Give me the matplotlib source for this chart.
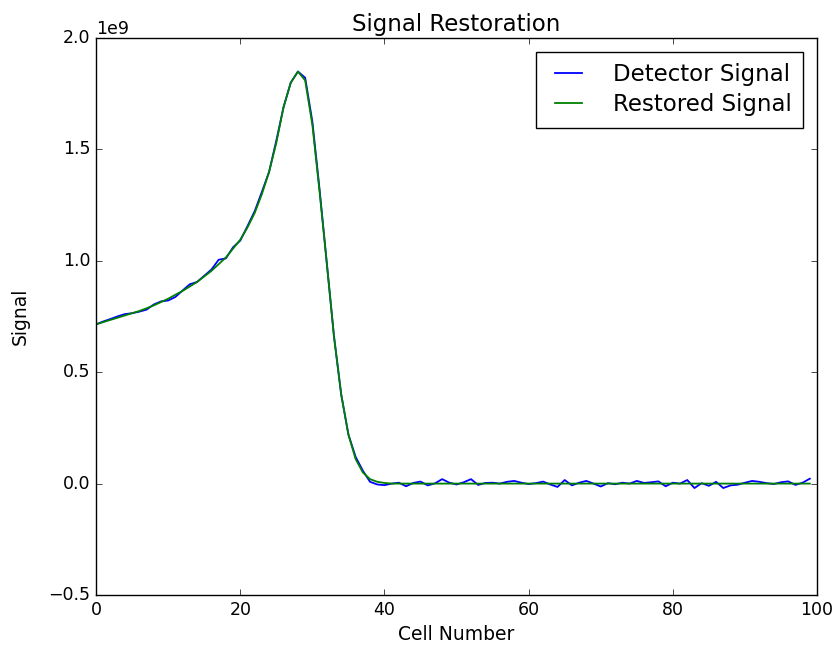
import numpy as np
import matplotlib
matplotlib.use("Agg")
import matplotlib.pyplot as plt

plt.style.use("classic")

# restored signal (units of 1e9), cells 0..40
restored_head = [0.715, 0.725, 0.735, 0.745, 0.755, 0.765, 0.775, 0.787, 0.800, 0.815,
                 0.830, 0.848, 0.865, 0.885, 0.905, 0.930, 0.955, 0.985, 1.015, 1.055,
                 1.095, 1.150, 1.215, 1.300, 1.400, 1.530, 1.690, 1.800, 1.850, 1.810,
                 1.610, 1.310, 0.990, 0.660, 0.400, 0.220, 0.110, 0.050, 0.020, 0.008,
                 0.003]
restored_tail = [0.0] * 59

# detector minus restored (units of 1e9)
noise_head = [0.000, 0.003, 0.004, 0.006, 0.006, 0.000, -0.003, -0.006, 0.004, 0.003,
              -0.008, -0.010, 0.002, 0.010, 0.000, 0.003, 0.006, 0.020, -0.004, 0.006,
              -0.004, 0.006, 0.008, 0.010, 0.000, 0.010, 0.000, 0.000, 0.000, 0.012,
              0.015, 0.010, 0.000, 0.000, 0.000, 0.000, 0.010, 0.008, -0.012, -0.012,
              -0.010]
noise_tail = [0.000, 0.004, -0.012, 0.003, 0.009, -0.008, 0.001, 0.020, 0.004, -0.004,
              0.006, 0.020, -0.006, 0.003, 0.004, 0.000, 0.008, 0.012, 0.004, -0.002,
              0.002, 0.009, -0.004, -0.015, 0.016, -0.008, 0.004, 0.012, 0.000, -0.013,
              0.002, -0.003, 0.004, 0.000, 0.012, 0.003, 0.006, 0.010, -0.012, 0.004,
              0.000, 0.016, -0.020, 0.002, -0.010, 0.008, -0.020, -0.008, -0.005, 0.004,
              0.012, 0.008, 0.002, -0.002, 0.006, 0.010, -0.006, 0.004, 0.022, -0.015][:59]

restored = np.array(restored_head + restored_tail) * 1e9
detector = restored + np.array(noise_head + noise_tail) * 1e9
cells = np.arange(len(restored))

fig = plt.figure(figsize=(8.32, 6.46), dpi=100, facecolor="white")
ax = fig.add_axes([0.1155, 0.079, 0.8665, 0.862])
ax.plot(cells, detector, color="b", lw=1.3, label="Detector Signal")
ax.plot(cells, restored, color="g", lw=1.3, label="Restored Signal")
ax.set_xlim(0, 100)
ax.set_ylim(-0.5e9, 2.0e9)
ax.tick_params(labelsize=12.5)
ax.yaxis.get_offset_text().set_fontsize(12.5)
ax.set_title("Signal Restoration", fontsize=16.5)
ax.set_xlabel("Cell Number", fontsize=13.5)
ax.set_ylabel("Signal", fontsize=13.5)
ax.yaxis.set_label_coords(-0.092, 0.5)
ax.legend(loc="upper right", fontsize=16.5, handlelength=1.8, handletextpad=1.05,
          labelspacing=0.3, borderpad=0.5, borderaxespad=0.6)
fig.savefig("out.png", dpi=100, facecolor="white")
